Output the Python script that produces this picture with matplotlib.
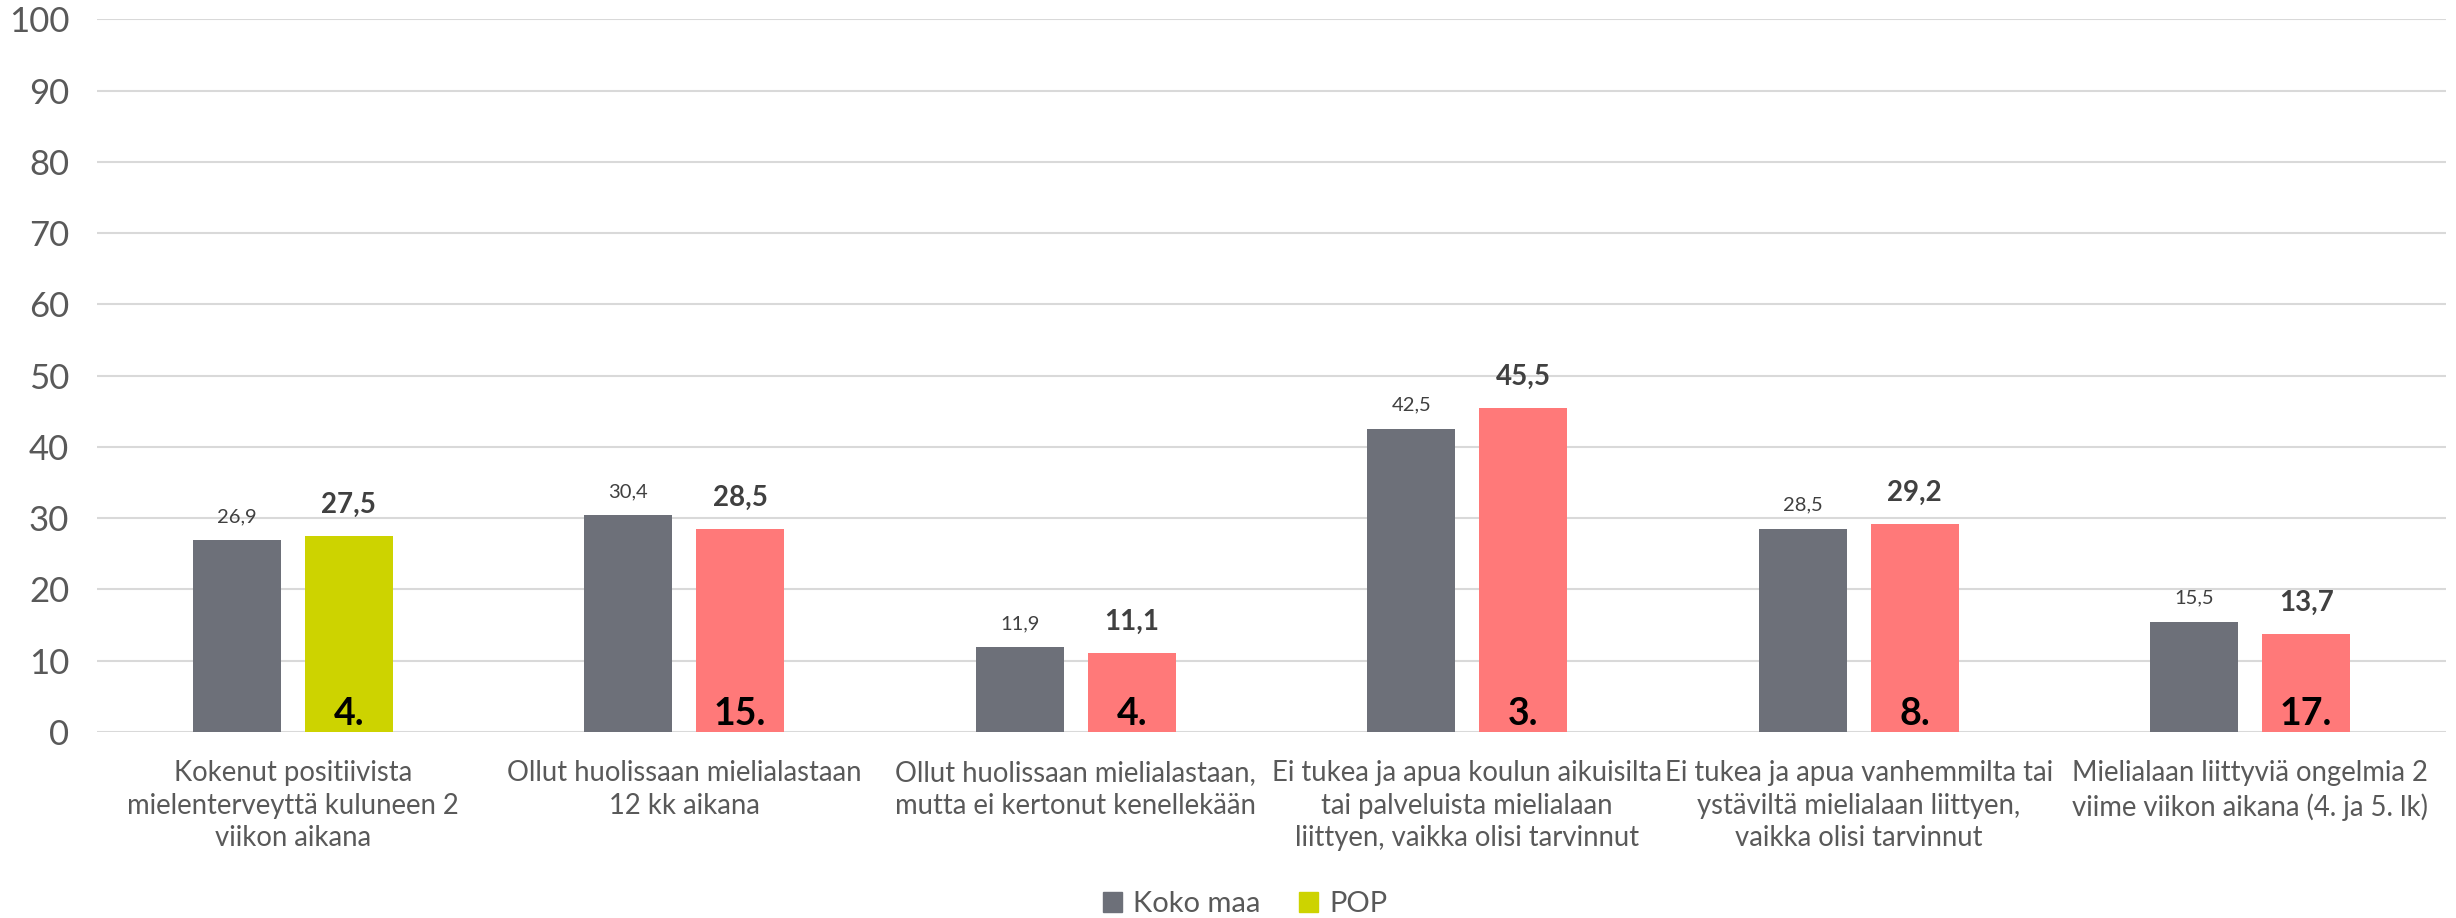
import matplotlib
matplotlib.use("Agg")
import matplotlib.pyplot as plt
from matplotlib.patches import Patch
import numpy as np

categories = [
    "Kokenut positiivista\nmielenterveyttä kuluneen 2\nviikon aikana",
    "Ollut huolissaan mielialastaan\n12 kk aikana",
    "Ollut huolissaan mielialastaan,\nmutta ei kertonut kenellekään",
    "Ei tukea ja apua koulun aikuisilta\ntai palveluista mielialaan\nliittyen, vaikka olisi tarvinnut",
    "Ei tukea ja apua vanhemmilta tai\nystäviltä mielialaan liittyen,\nvaikka olisi tarvinnut",
    "Mielialaan liittyviä ongelmia 2\nviime viikon aikana (4. ja 5. lk)",
]
koko_maa = [26.9, 30.4, 11.9, 42.5, 28.5, 15.5]
pop = [27.5, 28.5, 11.1, 45.5, 29.2, 13.7]
ranks = ["4.", "15.", "4.", "3.", "8.", "17."]
yticks = [0, 10, 20, 30, 40, 50, 60, 70, 80, 90, 100]

GRAY = "#6d7079"
YELLOW = "#cdd300"
SALMON = "#ff7979"
pop_colors = [YELLOW] + [SALMON] * (len(pop) - 1)

plt.rcParams["font.family"] = ["Lato", "DejaVu Sans"]

fig = plt.figure(figsize=(24.56, 9.18), dpi=100)
ax = fig.add_axes([0.0395, 0.2026, 0.9564, 0.7764])

x = np.arange(len(categories))
w = 0.224
off = 0.143
ax.bar(x - off, koko_maa, width=w, color=GRAY, zorder=3)
ax.bar(x + off, pop, width=w, color=pop_colors, zorder=3)

for xi, k, p, r in zip(x, koko_maa, pop, ranks):
    ax.annotate(f"{k:.1f}".replace(".", ","), (xi - off, k), xytext=(0, 11),
                textcoords="offset points", ha="center", va="bottom",
                fontsize=14.5, color="#404040")
    ax.annotate(f"{p:.1f}".replace(".", ","), (xi + off, p), xytext=(0, 13),
                textcoords="offset points", ha="center", va="bottom",
                fontsize=20, fontweight="bold", color="#404040")
    ax.annotate(r, (xi + off, 0), xytext=(0, 1), textcoords="offset points",
                ha="center", va="bottom", fontsize=27, fontweight="bold",
                color="black", zorder=4)

ax.set_xlim(-0.5, len(categories) - 0.5)
ax.set_ylim(0, 100)
ax.set_yticks(yticks)
ax.set_xticks(x)
ax.set_xticklabels(categories, fontsize=19.8, color="#595959", linespacing=1.32)
ax.tick_params(axis="y", labelsize=25, labelcolor="#595959", length=0, pad=20)
ax.tick_params(axis="x", length=0, pad=20)
ax.grid(axis="y", color="#d9d9d9", linewidth=1.5, zorder=0)
for s in ax.spines.values():
    s.set_visible(False)

handles = [Patch(color=GRAY, label="Koko maa"), Patch(color=YELLOW, label="POP")]
fig.legend(handles=handles, loc="center", bbox_to_anchor=(0.507, 0.015),
           ncol=2, frameon=False, fontsize=21, handlelength=0.65, handleheight=0.65,
           handletextpad=0.4, columnspacing=1.3, labelcolor="#595959",
           borderpad=0)

fig.savefig("out.png", dpi=100)
